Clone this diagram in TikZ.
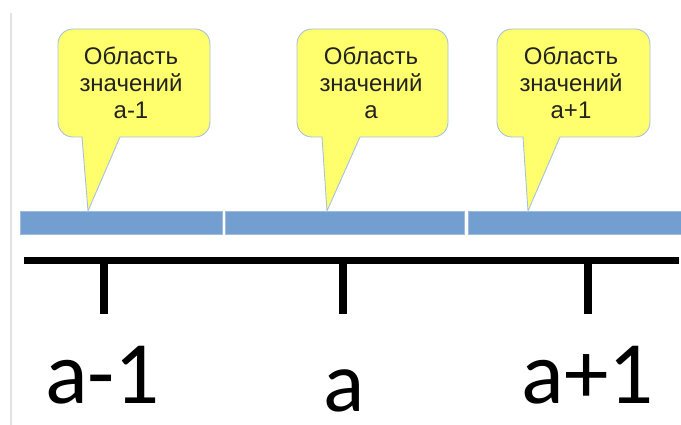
\documentclass[tikz,border=0pt]{standalone}
\usepackage{fontspec}
\setmainfont{Liberation Sans}
\newfontfamily\labelfont{Carlito}
\definecolor{calloutyellow}{HTML}{FFFF6D}
\definecolor{calloutedge}{HTML}{A7C2DF}
\definecolor{barblue}{HTML}{729FCF}
\definecolor{baredge}{HTML}{9DBCE0}
\definecolor{framegray}{HTML}{E2E2E2}
\definecolor{textdark}{HTML}{222222}
\begin{document}
\begin{tikzpicture}[x=1pt,y=-1pt,
  balloon/.style={fill=calloutyellow, draw=calloutedge, line width=0.9pt},
  balloontext/.style={align=center, anchor=north, inner sep=0pt,
    font=\fontsize{24}{27}\selectfont, text=textdark},
  bar/.style={fill=barblue, draw=baredge, line width=0.8pt, inner sep=0pt,
    minimum height=23pt, anchor=north west},
  axisline/.style={line width=7.5pt, black},
  tick/.style={line width=8pt, black},
  bigvalue/.style={font=\labelfont\fontsize{89}{92}\selectfont, anchor=base, inner sep=0pt}]
  \useasboundingbox (0,0) rectangle (681,425);
  % thin frame line on the left
  \draw[framegray, line width=2pt] (11,13) -- (11,425);

  % value ranges as bars
  \node[bar, minimum width=202pt] (bar1) at (20,211) {};
  \node[bar, minimum width=239pt] (bar2) at (225,211) {};
  \node[bar, minimum width=215pt] (bar3) at (468,211) {};

  % tips of the callouts on top of the bars
  \coordinate (tip1) at ([xshift=68pt]bar1.north west);
  \coordinate (tip2) at ([xshift=102pt]bar2.north west);
  \coordinate (tip3) at ([xshift=60pt]bar3.north west);

  % callout balloons: rounded box with a pointer down to the bar
  \draw[balloon] (82,137) [rounded corners=15pt] -- (58,137) -- (58,29) -- (210,29) -- (210,137) [sharp corners] -- (120,137) -- (tip1) -- cycle;
  \draw[balloon] (322,137) [rounded corners=15pt] -- (297,137) -- (297,29) -- (448,29) -- (448,137) [sharp corners] -- (360,137) -- (tip2) -- cycle;
  \draw[balloon] (523,137) [rounded corners=15pt] -- (497,137) -- (497,29) -- (650,29) -- (650,137) [sharp corners] -- (560,137) -- (tip3) -- cycle;

  \node[balloontext] (t1) at (131,47) {Область\\значений\\a-1};
  \node[balloontext] (t2) at (371,47) {Область\\значений\\a};
  \node[balloontext] (t3) at (571,47) {Область\\значений\\a+1};

  % number axis with ticks
  \coordinate (axL) at (24,260.5);
  \coordinate (axR) at (679,260.5);
  \draw[axisline] (axL) -- (axR);
  \coordinate (k1) at (103.5,260.5);
  \coordinate (k2) at (343,260.5);
  \coordinate (k3) at (588,260.5);
  \draw[tick] (k1) -- ++(0,53);
  \draw[tick] (k2) -- ++(0,53);
  \draw[tick] (k3) -- ++(0,53);

  \node[bigvalue] (v1) at (102.5,403) {a-1};
  \node[bigvalue, font=\labelfont\fontsize{86}{90}\selectfont] (v2) at (344,411) {a};
  \node[bigvalue] (v3) at (588,403) {a+1};
\end{tikzpicture}
\end{document}
